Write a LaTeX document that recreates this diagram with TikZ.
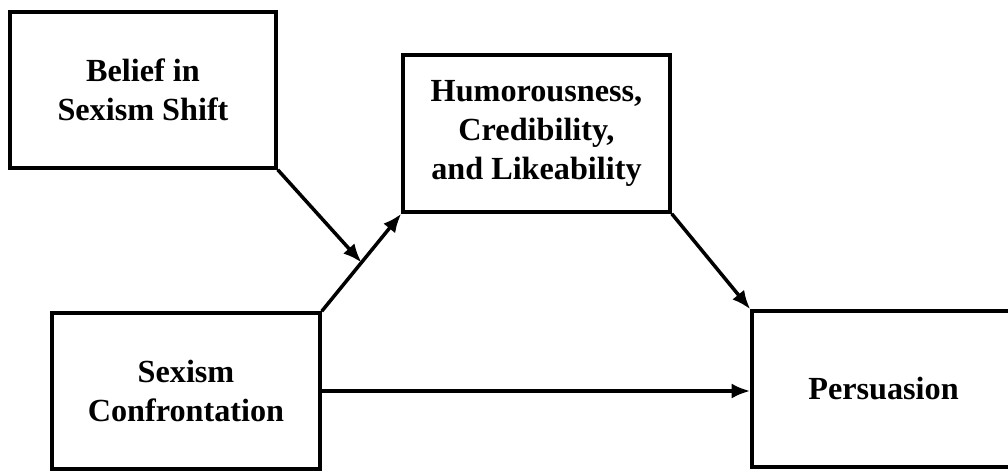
\documentclass[tikz,border=0pt]{standalone}
\usepackage{fontspec}
\setmainfont{Liberation Serif}
\usetikzlibrary{positioning,arrows.meta}

\begin{document}
\begin{tikzpicture}[x=0.03cm, y=-0.03cm,
      varbox/.style={draw, line width=3pt, inner sep=0pt, align=center,
                     font=\bfseries\fontsize{27.5}{33}\selectfont},
      link/.style={draw, line width=3pt, -{Latex[length=16pt,width=13pt]}}]
      \useasboundingbox (0, 0) rectangle (1008, 470);
      \node (belief) [varbox, minimum width=7.98cm, minimum height=4.68cm] at (143, 90)
            {Belief in\\Sexism Shift};
      \node (humor) [varbox, minimum width=8.01cm, minimum height=4.71cm] at (536.5, 133.5)
            {Humorousness,\\Credibility,\\and Likeability};
      \node (conf) [varbox, minimum width=8.04cm, minimum height=4.68cm] at (186, 391)
            {Sexism\\Confrontation};
      \node (pers) [varbox, minimum width=7.89cm, minimum height=4.68cm] at (883.5, 389)
            {Persuasion};
      \path[link] (conf.north east) -- coordinate[pos=.5] (mid) (humor.south west);
      \path[link] (belief.south east) -- (mid);
      \path[link] (humor.south east) -- (pers.north west);
      \path[link] (conf.east) -- (conf.east -| pers.west);
\end{tikzpicture}
\end{document}
